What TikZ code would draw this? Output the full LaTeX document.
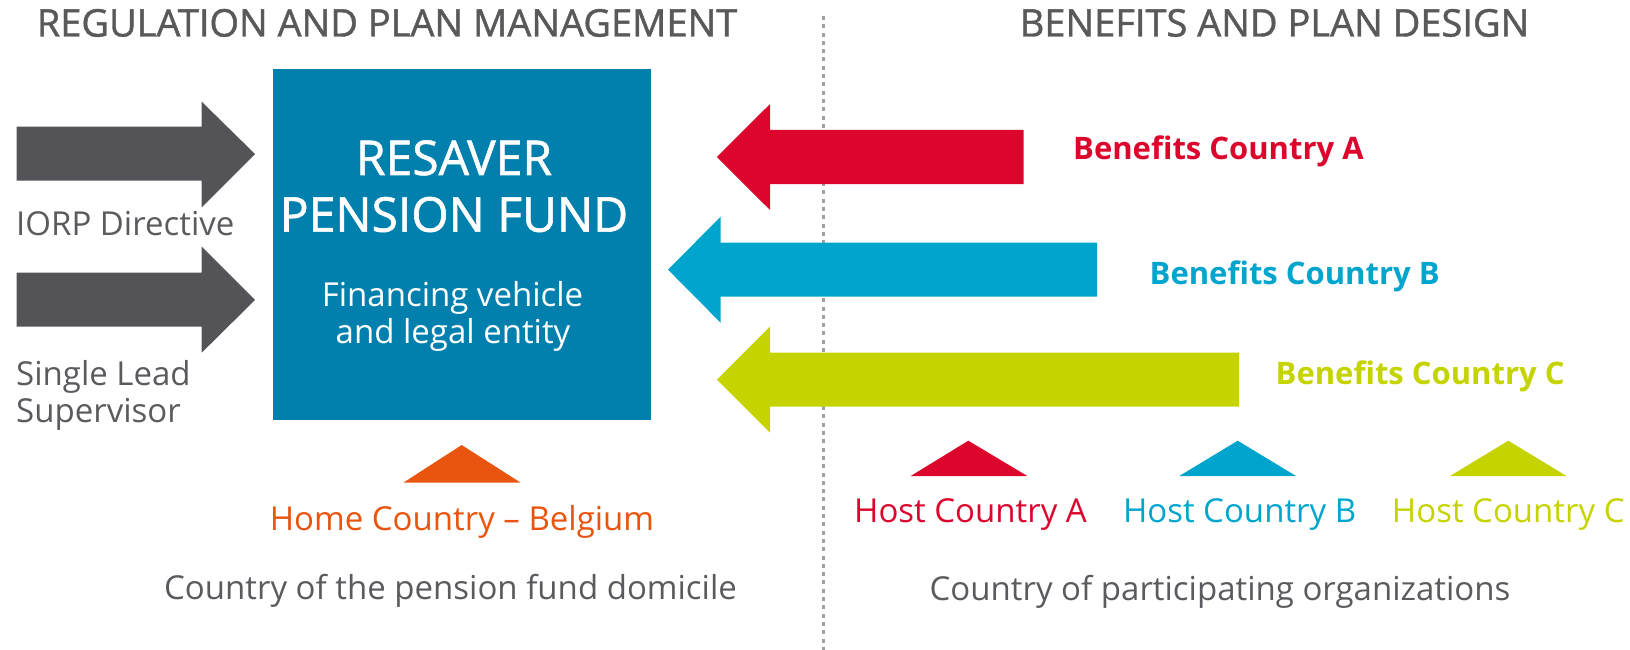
\documentclass[tikz,border=0pt]{standalone}
\usepackage{fontspec}
\setmainfont{Open Sans}
\newfontfamily\semibfont[FakeBold=1.2]{Open Sans}
\definecolor{ttlgray}{HTML}{59595B}
\definecolor{txtgray}{HTML}{5B5B5F}
\definecolor{arrgray}{HTML}{545458}
\definecolor{boxblue}{HTML}{0280AD}
\definecolor{cred}{HTML}{DC062D}
\definecolor{cblue}{HTML}{00A5CE}
\definecolor{clime}{HTML}{C5D400}
\definecolor{corange}{HTML}{E9540F}
\definecolor{dashgray}{HTML}{A0A0A0}
\begin{document}
\begin{tikzpicture}[x=1pt,y=-1pt,
  title/.style={font=\semibfont\fontsize{38}{40}\selectfont, text=ttlgray, anchor=base, inner sep=0pt},
  body/.style={font=\fontsize{33}{37}\selectfont, anchor=base, inner sep=0pt},
  bene/.style={font=\fontsize{31}{35}\selectfont\bfseries, anchor=base west, inner sep=0pt},
  boxtext/.style={text=white, anchor=base, inner sep=0pt},
  divider/.style={draw=dashgray, line width=2.5pt, dash pattern=on 4pt off 4.3pt}
  ]
\useasboundingbox (0,0) rectangle (1630,650);

% titles
\node[title] (tl) at (387,36.5) {REGULATION AND PLAN MANAGEMENT};
\node[title] (tr) at (1274.5,36.5) {BENEFITS AND PLAN DESIGN};

% divider
\coordinate (dtop) at (823.3,16);
\coordinate (dbot) at (823.3,650);
\draw[divider] (dtop) -- (dbot);

% main box
\node[fill=boxblue, minimum width=378pt, minimum height=351pt, anchor=north west, inner sep=0pt] (box) at (273,69) {};
\node[boxtext, font=\semibfont\fontsize{48}{52}\selectfont] (res) at (454,175) {RESAVER};
\node[boxtext, font=\semibfont\fontsize{48}{52}\selectfont] (pen) at (454,231.7) {PENSION FUND};
\node[boxtext, font=\fontsize{33}{37}\selectfont] (fin) at (452.5,306.7) {Financing vehicle};
\node[boxtext, font=\fontsize{33}{37}\selectfont] (leg) at (453,343.3) {and legal entity};

% gray arrows
\fill[arrgray] (16.7,126.7) -- (201.7,126.7) -- (201.7,101.7) -- (255,154) -- (201.7,207.3) -- (201.7,180.7) -- (16.7,180.7) -- cycle;
\fill[arrgray] (16.7,272.7) -- (201.7,272.7) -- (201.7,246.7) -- (255,300) -- (201.7,352.7) -- (201.7,326.7) -- (16.7,326.7) -- cycle;
\node[body, text=txtgray, anchor=base west] (iorp) at (16,235) {IORP Directive};
\node[body, text=txtgray, anchor=base west] (sl1) at (16,385) {Single Lead};
\node[body, text=txtgray, anchor=base west] (sl2) at (16,422) {Supervisor};

% coloured arrows
\fill[cred] (1023.5,130) -- (770,130) -- (770,104) -- (716.9,157) -- (770,210) -- (770,184) -- (1023.5,184) -- cycle;
\fill[cblue] (1097,242.7) -- (720.6,242.7) -- (720.6,216.7) -- (668,269.7) -- (720.6,322.7) -- (720.6,296.7) -- (1097,296.7) -- cycle;
\fill[clime] (1239,352.7) -- (770,352.7) -- (770,326.7) -- (717,379.7) -- (770,432.7) -- (770,406.7) -- (1239,406.7) -- cycle;
\node[bene, text=cred] (ba) at (1073,160) {Benefits Country A};
\node[bene, text=cblue] (bb) at (1149.5,284.5) {Benefits Country B};
\node[bene, text=clime] (bc) at (1275.5,384) {Benefits Country C};

% triangles
\fill[corange] (403.3,482.7) -- (461.7,445) -- (520.7,482.7) -- cycle;
\fill[cred] (910.7,476) -- (968.3,440.7) -- (1027.3,476) -- cycle;
\fill[cblue] (1179.3,476) -- (1237.7,440.7) -- (1296,476) -- cycle;
\fill[clime] (1450,476) -- (1508.3,440.7) -- (1566.5,476) -- cycle;

% bottom labels
\node[body, text=corange] (home) at (462,530) {Home Country – Belgium};
\node[body, text=cred] (ha) at (970.5,522.7) {Host Country A};
\node[body, text=cblue] (hb) at (1239.6,522.7) {Host Country B};
\node[body, text=clime] (hc) at (1508.3,522.7) {Host Country C};
\node[body, text=txtgray] (dom) at (450.5,599) {Country of the pension fund domicile};
\node[body, text=txtgray] (part) at (1220,600) {Country of participating organizations};
\end{tikzpicture}
\end{document}
